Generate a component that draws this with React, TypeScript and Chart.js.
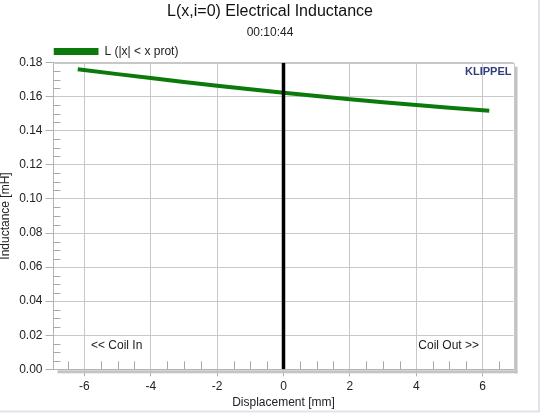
import React, { useEffect, useRef } from "react";
import { Chart, registerables } from "chart.js";

Chart.register(...registerables);

// ---- data ----
const displacement = [-6.2, -5, -4, -3, -2, -1, 0, 1, 2, 3, 4, 5, 6.2];
const inductance = [0.1761, 0.1733, 0.1710, 0.1687, 0.1665, 0.1644, 0.1624, 0.1605, 0.1586, 0.1568, 0.1551, 0.1535, 0.1518];
const zeroLineX = [0, 0];
const zeroLineY = [0, 0.18];
const xTicks = [-6, -4, -2, 0, 2, 4, 6];
const yTicks = [0, 0.02, 0.04, 0.06, 0.08, 0.1, 0.12, 0.14, 0.16, 0.18];
const xRange = [-6.93, 6.93];
const yRange = [0, 0.18];
const xMinorStep = 0.5;
const yMinorStep = 0.005;

const FONT = "'Liberation Sans', Arial, sans-serif";
const GREEN = "#0b7a0b";

const isMajor = (v: number, list: number[]) => list.some((t) => Math.abs(t - v) < 1e-6);

const decorPlugin = {
  id: "decor",
  beforeDatasetsDraw(chart: any) {
    const { ctx, chartArea: a, scales } = chart;
    const xs = scales.x;
    const ys = scales.y;
    ctx.save();
    // 3D shadow
    ctx.fillStyle = "#c3c3c3";
    ctx.fillRect(a.left + 4, a.bottom + 1, a.right - a.left, 3);
    ctx.fillRect(a.right + 1, a.top + 4, 3, a.bottom - a.top);
    // plot border (top / right)
    ctx.strokeStyle = "#c8c8c8";
    ctx.lineWidth = 1;
    ctx.beginPath();
    ctx.moveTo(Math.round(a.left) + 0.5, Math.round(a.top) + 0.5);
    ctx.lineTo(Math.round(a.right) + 0.5, Math.round(a.top) + 0.5);
    ctx.lineTo(Math.round(a.right) + 0.5, Math.round(a.bottom) + 0.5);
    ctx.stroke();
    // minor ticks
    ctx.strokeStyle = "#a8a8a8";
    ctx.beginPath();
    const nY = Math.round((yRange[1] - yRange[0]) / yMinorStep);
    for (let i = 0; i <= nY; i++) {
      const v = yRange[0] + i * yMinorStep;
      if (isMajor(v, yTicks)) continue;
      const py = Math.round(ys.getPixelForValue(v)) + 0.5;
      ctx.moveTo(a.left, py);
      ctx.lineTo(a.left + 7, py);
    }
    const startX = Math.ceil(xRange[0] / xMinorStep);
    const endX = Math.floor(xRange[1] / xMinorStep);
    for (let k = startX; k <= endX; k++) {
      const v = k * xMinorStep;
      if (isMajor(v, xTicks)) continue;
      const px = Math.round(xs.getPixelForValue(v)) + 0.5;
      ctx.moveTo(px, a.bottom);
      ctx.lineTo(px, a.bottom - 8);
    }
    ctx.stroke();
    ctx.restore();
  },
  afterDraw(chart: any) {
    const { ctx, chartArea: a } = chart;
    ctx.save();
    ctx.textBaseline = "middle";
    ctx.fillStyle = "#2f3e7e";
    ctx.font = `bold 11px ${FONT}`;
    ctx.textAlign = "right";
    ctx.fillText("KLIPPEL", a.right - 2, a.top + 9);
    ctx.fillStyle = "#222";
    ctx.font = `12px ${FONT}`;
    ctx.textAlign = "left";
    ctx.fillText("<< Coil In", a.left + 37.5, a.bottom - 23.6);
    ctx.textAlign = "right";
    ctx.fillText("Coil Out >>", a.right - 34.5, a.bottom - 23.6);
    // outer frame
    ctx.strokeStyle = "#dfe4ea";
    ctx.lineWidth = 2;
    ctx.beginPath();
    ctx.moveTo(539, 0);
    ctx.lineTo(539, 411.5);
    ctx.lineTo(0, 411.5);
    ctx.stroke();
    ctx.restore();
  },
};

export default function App() {
  const ref = useRef<HTMLCanvasElement | null>(null);

  useEffect(() => {
    if (!ref.current) return;
    const chart = new Chart(ref.current, {
      type: "scatter",
      data: {
        datasets: [
          {
            label: "L (|x| < x prot)",
            data: displacement.map((x, i) => ({ x, y: inductance[i] })),
            showLine: true,
            borderColor: GREEN,
            backgroundColor: GREEN,
            borderWidth: 4,
            pointRadius: 0,
            order: 1,
          },
          {
            label: "zero",
            data: zeroLineX.map((x, i) => ({ x, y: zeroLineY[i] })),
            showLine: true,
            borderColor: "#000",
            backgroundColor: "#000",
            borderWidth: 3.5,
            pointRadius: 0,
            order: 0,
          },
        ],
      },
      options: {
        animation: false,
        responsive: false,
        devicePixelRatio: 1,
        layout: { padding: { left: 0, right: 5, top: 0, bottom: 0 } },
        plugins: {
          tooltip: { enabled: false },
          title: {
            display: true,
            text: "L(x,i=0) Electrical Inductance",
            color: "#111",
            font: { family: FONT, size: 16, weight: "normal" },
            padding: { top: 2, bottom: 1 },
          },
          subtitle: {
            display: true,
            text: "00:10:44",
            color: "#222",
            font: { family: FONT, size: 12 },
            padding: { top: 3, bottom: 6 },
          },
          legend: {
            display: true,
            position: "top",
            align: "start",
            fullSize: false,
            maxHeight: 17.1,
            labels: {
              boxWidth: 45,
              boxHeight: 7,
              padding: 0,
              color: "#222",
              font: { family: FONT, size: 12 },
              generateLabels: (c: any) =>
                Chart.defaults.plugins.legend.labels
                  .generateLabels(c)
                  .filter((l: any) => l.datasetIndex === 0)
                  .map((l: any) => ({ ...l, lineWidth: 0 })),
            },
          },
        },
        scales: {
          x: {
            type: "linear",
            position: "bottom",
            min: xRange[0],
            max: xRange[1],
            afterBuildTicks: (s: any) => {
              s.ticks = xTicks.map((v) => ({ value: v }));
            },
            afterFit: (s: any) => {
              s.height = 43.7;
            },
            grid: { color: "#c8c8c8", tickColor: "#b0b0b0", tickLength: 7, lineWidth: 1 },
            border: { color: "#b4b4b4" },
            ticks: {
              color: "#222",
              padding: 3,
              font: { family: FONT, size: 12 },
              callback: (v: any) => String(v),
            },
            title: {
              display: true,
              text: "Displacement [mm]",
              color: "#222",
              font: { family: FONT, size: 12 },
              padding: { top: 0, bottom: 3 },
            },
          },
          y: {
            type: "linear",
            position: "left",
            min: yRange[0],
            max: yRange[1],
            afterBuildTicks: (s: any) => {
              s.ticks = yTicks.map((v) => ({ value: v }));
            },
            afterFit: (s: any) => {
              s.width = 53.5;
            },
            grid: { color: "#c8c8c8", tickColor: "#b0b0b0", tickLength: 8, lineWidth: 1 },
            border: { color: "#b4b4b4" },
            ticks: {
              color: "#222",
              padding: 3,
              font: { family: FONT, size: 12 },
              callback: (v: any) => Number(v).toFixed(2),
            },
            title: {
              display: true,
              text: "Inductance [mH]",
              color: "#222",
              font: { family: FONT, size: 12 },
              padding: { top: -2, bottom: 0 },
            },
          },
          yR: {
            type: "linear",
            position: "right",
            display: true,
            grid: { display: false, drawTicks: false },
            border: { display: false },
            ticks: { display: false },
            afterFit: (s: any) => {
              s.width = 26.5;
            },
          },
        },
      } as any,
      plugins: [decorPlugin],
    });
    return () => chart.destroy();
  }, []);

  return (
    <div style={{ position: "absolute", left: 0, top: 0, width: 545, height: 413, background: "#fff" }}>
      <canvas ref={ref} width={545} height={413} style={{ width: 545, height: 413 }} />
    </div>
  );
}
